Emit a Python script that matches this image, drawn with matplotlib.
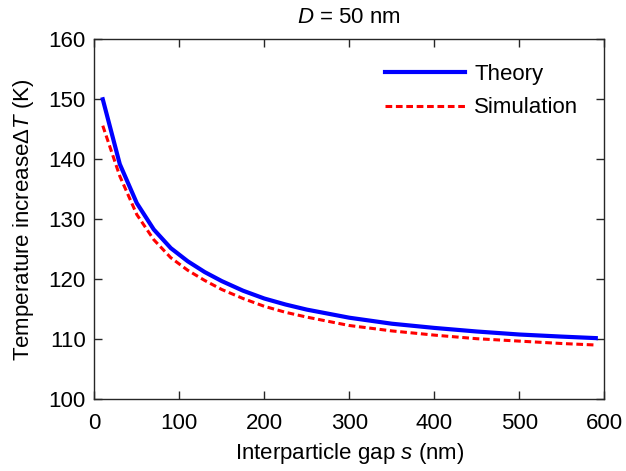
import matplotlib
matplotlib.use("Agg")
import matplotlib.pyplot as plt

plt.rcParams['font.family'] = ['Liberation Sans', 'DejaVu Sans']
plt.rcParams['mathtext.fontset'] = 'custom'
plt.rcParams['mathtext.rm'] = 'Liberation Sans'
plt.rcParams['mathtext.it'] = 'Liberation Sans:italic'

# values
gap_nm = [10, 30, 50, 70, 90, 110, 130, 150, 175, 200, 225, 250, 300,
          350, 400, 450, 500, 550, 590]
theory = [150.0, 139.2, 132.7, 128.3, 125.2, 123.0, 121.2, 119.7, 118.1,
          116.8, 115.8, 114.95, 113.6, 112.6, 111.9, 111.3, 110.8, 110.45, 110.2]
simulation = [145.6, 137.2, 130.8, 126.6, 123.6, 121.5, 119.8, 118.3, 116.8,
              115.5, 114.5, 113.7, 112.3, 111.4, 110.7, 110.1, 109.7, 109.3, 109.05]

fig = plt.figure(figsize=(6.26, 4.71), dpi=100)
ax = fig.add_axes([0.1506, 0.1522, 0.8147, 0.7644])

ax.plot(gap_nm, theory, color='#0000ff', linewidth=3.0, label='Theory')
ax.plot(gap_nm, simulation, color='#ff0000', linewidth=2.2,
        linestyle=(0, (2.2, 1.2)), label='Simulation')

ax.set_xlim(0, 600)
ax.set_ylim(100, 160)
ax.set_xticks(range(0, 601, 100))
ax.set_yticks(range(100, 161, 10))
ax.tick_params(direction='in', length=6, width=1, labelsize=16,
               top=True, right=True, colors='#262626', labelcolor='black')
ax.tick_params(axis='y', pad=6)
ax.tick_params(axis='x', pad=10)
for sp in ax.spines.values():
    sp.set_color('#262626')
    sp.set_linewidth(1)

ax.set_xlabel('Interparticle gap $\\mathit{s}$ (nm)', fontsize=16, labelpad=5)
ax.set_ylabel('Temperature increase$\\Delta\\mathit{T}$ (K)', fontsize=16, labelpad=9)
ax.set_title('$\\mathit{D}$ = 50 nm', fontsize=16, pad=12)

ax.legend(loc='upper right', frameon=False, fontsize=16, handlelength=3.6,
          handletextpad=0.4, labelspacing=0.55, borderaxespad=0.15,
          bbox_to_anchor=(0.973, 0.965))

fig.savefig('out.png', dpi=100)
